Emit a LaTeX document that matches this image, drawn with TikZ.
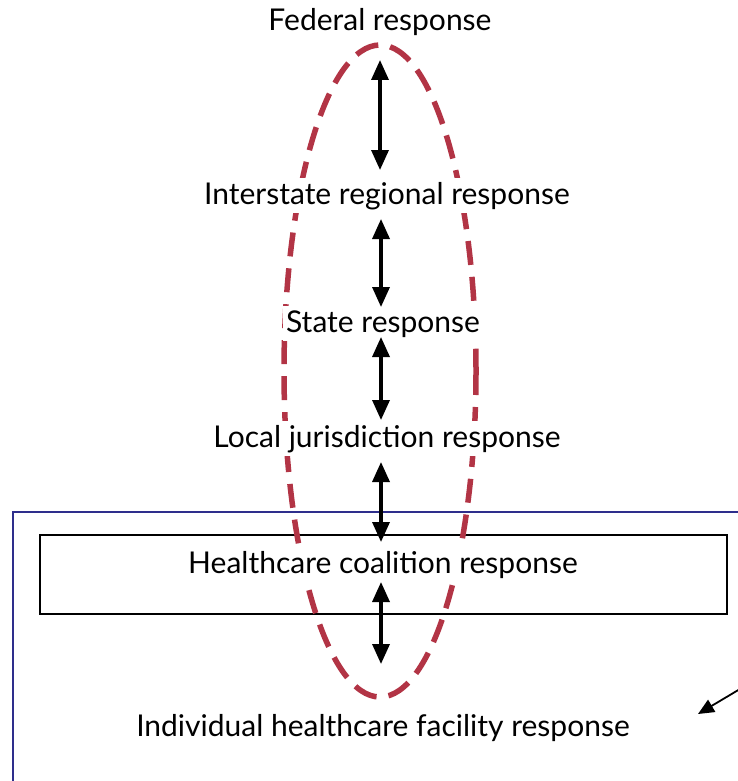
\documentclass[tikz,border=0pt]{standalone}
\usepackage{fontspec}
\setmainfont{Lato}
\usetikzlibrary{arrows.meta}
\definecolor{ovalred}{HTML}{B23445}
\definecolor{boxblue}{HTML}{2E2E8C}
\begin{document}
\begin{tikzpicture}[x=1pt,y=-1pt,
  lbl/.style={font=\fontsize{30}{34}\selectfont, fill=white, inner xsep=3pt, inner ysep=4pt, anchor=base},
  link/.style={line width=3.4pt, {Triangle[length=20pt,width=17pt]}-{Triangle[length=20pt,width=17pt]}},
  oval/.style={draw=ovalred, line width=5.5pt, dash pattern=on 24pt off 12pt},
  ]
\useasboundingbox (0,0) rectangle (738,781);
% blue frame
\draw[boxblue, line width=1.4pt] (13,781) -- (13,512) -- (738,512);
% black box
\node[draw=black, line width=1.8pt, minimum width=687pt, minimum height=79pt, inner sep=0pt] (hcbox) at (383.5,574.5) {};
% oval
\draw[oval] (380,371) ellipse [x radius=96, y radius=326];
% labels
\node[lbl] (fed) at (380,31) {Federal response};
\node[lbl] (inter) at (387,204) {Interstate regional response};
\node[lbl] (state) at (383,332) {State response};
\node[lbl] (local) at (387,447) {Local jurisdiction response};
\node[lbl] (hc) at (383,573) {Healthcare coalition response};
\node[lbl] (ind) at (383,736) {Individual healthcare facility response};
% arrows
\coordinate (a1) at (380,60); \coordinate (b1) at (380,170);
\coordinate (a2) at (381,219); \coordinate (b2) at (381,307);
\coordinate (a3) at (381,337); \coordinate (b3) at (381,420);
\coordinate (a4) at (381,462); \coordinate (b4) at (381,542);
\coordinate (a5) at (381,582); \coordinate (b5) at (381,664);
\draw[link] (a1) -- (b1);
\draw[link] (a2) -- (b2);
\draw[link] (a3) -- (b3);
\draw[link] (a4) -- (b4);
\draw[link] (a5) -- (b5);
\coordinate (ps) at (740,689);
\coordinate (pe) at (698,714);
\draw[line width=1.8pt, -{Triangle[length=16pt,width=14pt]}] (ps) -- (pe);
\end{tikzpicture}
\end{document}
